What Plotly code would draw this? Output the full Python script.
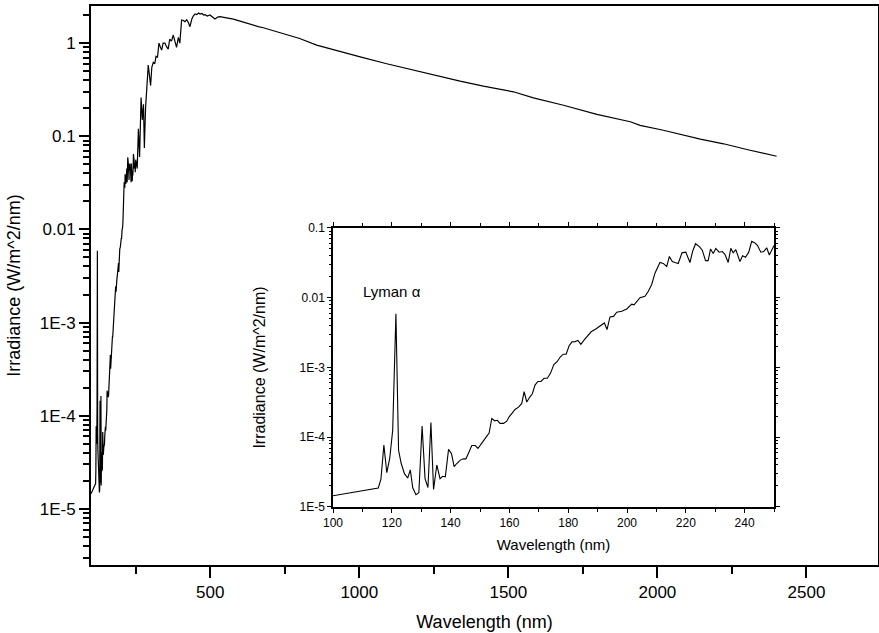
import plotly.graph_objects as go

# ---- data ----
wl_uv = [100, 115.4, 116.3, 117.3, 118.3, 119.3, 120.3, 121.4, 122.3, 123.2, 124.3, 125.4, 126.3, 127.1,
         128.2, 129.2, 130.3, 131.3, 132.3, 133.3, 134.2, 135.3, 136.4, 137.3, 138.2, 139.3, 140.3, 141.2,
         142.1, 143.3, 144.4, 145.2, 146.3, 147.2, 148.4, 149.3, 150.3, 151.2, 152.2, 153.1, 154.0, 155.0,
         155.9, 156.8, 158.0, 159.1, 159.9, 161.0, 161.9, 163.1, 164.2, 165.0, 165.9, 167.0, 167.8, 168.7,
         169.7, 170.7, 171.8, 172.9, 174.0, 175.1, 176.3, 177.2, 178.3, 179.3, 180.3, 181.3, 182.4, 183.3,
         184.3, 185.3, 186.4, 187.8, 189.5, 191.2, 192.3, 193.2, 194.2, 195.4, 196.5, 198.2, 199.9, 201.6,
         202.4, 204.4, 206.1, 207.2, 208.4, 209.5, 210.4, 211.2, 212.3, 213.5, 214.4, 215.4, 216.3, 217.4,
         218.7, 220.0, 221.4, 222.3, 223.3, 224.6, 225.6, 226.7, 227.6, 228.4, 229.3, 230.2, 231.3, 232.4,
         233.3, 234.4, 235.3, 236.1, 237.0, 238.4, 239.3, 240.3, 241.4, 242.4, 243.5, 244.4, 245.5, 246.5,
         247.5, 248.4, 250.0]
irr_uv = [1.45e-5, 1.87e-5, 2.5e-5, 7.7e-5, 3.1e-5, 5.0e-5, 1.26e-4, 5.9e-3, 6.5e-5, 4.2e-5, 3.0e-5, 2.6e-5,
          3.4e-5, 1.9e-5, 1.5e-5, 1.6e-5, 1.45e-4, 2.55e-5, 1.9e-5, 1.63e-4, 1.78e-5, 4.0e-5, 2.55e-5, 2.75e-5,
          2.7e-5, 6.7e-5, 5.8e-5, 3.8e-5, 4.2e-5, 4.7e-5, 4.9e-5, 4.9e-5, 6.2e-5, 7.6e-5, 7.6e-5, 6.9e-5,
          7.9e-5, 8.8e-5, 1.02e-4, 1.15e-4, 1.86e-4, 1.72e-4, 1.75e-4, 1.58e-4, 1.58e-4, 1.7e-4, 1.96e-4,
          2.24e-4, 2.5e-4, 2.7e-4, 3.05e-4, 4.5e-4, 3.2e-4, 3.8e-4, 4.2e-4, 5.6e-4, 6.3e-4, 6.3e-4, 7.0e-4,
          7.0e-4, 8.3e-4, 1.1e-3, 1.22e-3, 1.4e-3, 1.55e-3, 1.55e-3, 2.05e-3, 2.33e-3, 2.35e-3, 2.45e-3,
          2.15e-3, 2.45e-3, 2.8e-3, 3.25e-3, 3.6e-3, 4.05e-3, 4.35e-3, 3.5e-3, 5.3e-3, 5.4e-3, 6.2e-3,
          6.4e-3, 6.9e-3, 8.1e-3, 7.9e-3, 1.0e-2, 1.05e-2, 1.23e-2, 1.55e-2, 2.25e-2, 2.8e-2, 3.2e-2, 3.1e-2,
          2.8e-2, 3.9e-2, 3.3e-2, 3.2e-2, 3.1e-2, 4.4e-2, 4.5e-2, 3.2e-2, 4.6e-2, 5.95e-2, 5.4e-2, 4.8e-2,
          3.4e-2, 3.4e-2, 5.0e-2, 4.3e-2, 5.1e-2, 4.5e-2, 4.6e-2, 4.2e-2, 3.2e-2, 5.1e-2, 4.4e-2, 4.9e-2,
          3.3e-2, 4.0e-2, 3.8e-2, 4.5e-2, 6.45e-2, 6.1e-2, 5.6e-2, 4.5e-2, 4.6e-2, 5.2e-2, 4.1e-2, 5.6e-2]

wl_vis = [255, 259, 263, 268, 272, 276, 279, 283, 287, 292, 296, 300, 304, 309, 314, 318, 323, 328, 332,
          337, 342, 348, 353, 359, 364, 370, 376, 381, 387, 393, 398, 404, 410, 415, 421, 427, 432, 438,
          443, 449, 455, 461, 466, 472, 478, 483, 490, 499, 507, 516, 525, 533, 550, 578, 600, 622, 661,
          678, 720, 757, 800, 857, 880, 940, 1003, 1092, 1193, 1249, 1338, 1416, 1517, 1584, 1640, 1685,
          1797, 1870, 1909, 1942, 2020, 2144, 2222, 2300, 2400]
irr_vis = [0.045, 0.12, 0.06, 0.26, 0.15, 0.22, 0.075, 0.2, 0.33, 0.58, 0.45, 0.35, 0.55, 0.62, 0.6, 0.72,
           0.7, 1.0, 0.92, 0.84, 1.0, 1.0, 0.92, 0.86, 1.1, 1.05, 1.22, 1.05, 0.9, 1.15, 1.0, 1.77, 1.75,
           1.7, 1.78, 1.65, 1.5, 1.8, 1.95, 2.05, 2.02, 2.1, 2.05, 2.08, 2.0, 2.02, 1.95, 2.0, 1.9, 1.81,
           1.9, 1.92, 1.88, 1.81, 1.72, 1.63, 1.5, 1.46, 1.33, 1.22, 1.12, 0.95, 0.91, 0.8, 0.71, 0.6, 0.5,
           0.45, 0.39, 0.345, 0.3, 0.258, 0.234, 0.215, 0.172, 0.151, 0.143, 0.131, 0.116, 0.093, 0.083,
           0.072, 0.061]

main_yticks = [1e-5, 1e-4, 1e-3, 1e-2, 1e-1, 1]
main_ytext = ["1E-5", "1E-4", "1E-3", "0.01", "0.1", "1"]
inset_yticks = [1e-5, 1e-4, 1e-3, 1e-2, 1e-1]
inset_ytext = ["1E-5", "1E-4", "1E-3", "0.01", "0.1"]
inset_xticks = [100, 120, 140, 160, 180, 200, 220, 240]

FONT = "Liberation Sans, Arial, sans-serif"

fig = go.Figure()
fig.add_trace(go.Scatter(x=wl_uv + wl_vis, y=irr_uv + irr_vis, mode="lines",
                         line=dict(color="black", width=1.2), xaxis="x", yaxis="y",
                         showlegend=False, hoverinfo="skip"))
fig.add_trace(go.Scatter(x=wl_uv, y=irr_uv, mode="lines",
                         line=dict(color="black", width=1.1), xaxis="x2", yaxis="y2",
                         showlegend=False, hoverinfo="skip"))

fig.update_layout(
    width=879, height=633,
    margin=dict(l=91, r=1, t=6, b=68),
    paper_bgcolor="white", plot_bgcolor="white",
    font=dict(family=FONT, color="black"),
    xaxis=dict(domain=[0, 1], range=[100, 2740], tick0=0, dtick=500, automargin=False,
               showline=True, linewidth=2, linecolor="black", mirror=True,
               ticks="outside", ticklen=11, tickwidth=2, tickcolor="black",
               minor=dict(ticks="outside", ticklen=7, tickwidth=1.5, tickcolor="black", dtick=250, tick0=0),
               showgrid=False, zeroline=False,
               tickfont=dict(size=17, family=FONT),
               title=dict(text="Wavelength (nm)", font=dict(size=18, family=FONT), standoff=14)),
    yaxis=dict(domain=[0, 1], type="log", range=[-5.602, 0.398], automargin=False,
               tickvals=main_yticks, ticktext=main_ytext,
               showline=True, linewidth=2, linecolor="black", mirror=True,
               ticks="outside", ticklen=10, tickwidth=2, tickcolor="black",
               minor=dict(ticks="outside", ticklen=6, tickwidth=1.5, tickcolor="black", dtick="D1"),
               showgrid=False, zeroline=False,
               tickfont=dict(size=17, family=FONT),
               title=dict(text="Irradiance (W/m^2/nm)", font=dict(size=18, family=FONT), standoff=14)),
    xaxis2=dict(domain=[0.3075, 0.8679], anchor="y2", range=[100, 250], automargin=False,
                tickvals=inset_xticks,
                showline=True, linewidth=1.5, linecolor="black", mirror="ticks",
                ticks="outside", ticklen=4, tickwidth=1, tickcolor="black",
                minor=dict(ticks="outside", ticklen=3, tickwidth=1, tickcolor="black", dtick=10, tick0=100),
                showgrid=False, zeroline=False,
                tickfont=dict(size=12, family=FONT),
                title=dict(text="Wavelength (nm)", font=dict(size=15, family=FONT), standoff=10)),
    yaxis2=dict(domain=[0.1038, 0.6029], anchor="x2", type="log", range=[-5, -1], automargin=False,
                tickvals=inset_yticks, ticktext=inset_ytext,
                showline=True, linewidth=1.5, linecolor="black", mirror="ticks",
                ticks="outside", ticklen=4, tickwidth=1, tickcolor="black",
                minor=dict(ticks="outside", ticklen=2.5, tickwidth=1, tickcolor="black", dtick="D1"),
                showgrid=False, zeroline=False,
                tickfont=dict(size=12, family=FONT),
                title=dict(text="Irradiance (W/m^2/nm)", font=dict(size=16, family=FONT), standoff=30)),
    annotations=[dict(text="Lyman α", x=120, y=-1.913, xref="x2", yref="y2",
                      showarrow=False, font=dict(size=15, family=FONT, color="black"))],
)

fig.write_html("out.html", config={"displayModeBar": False},
               post_script="document.body.style.margin='0';")
